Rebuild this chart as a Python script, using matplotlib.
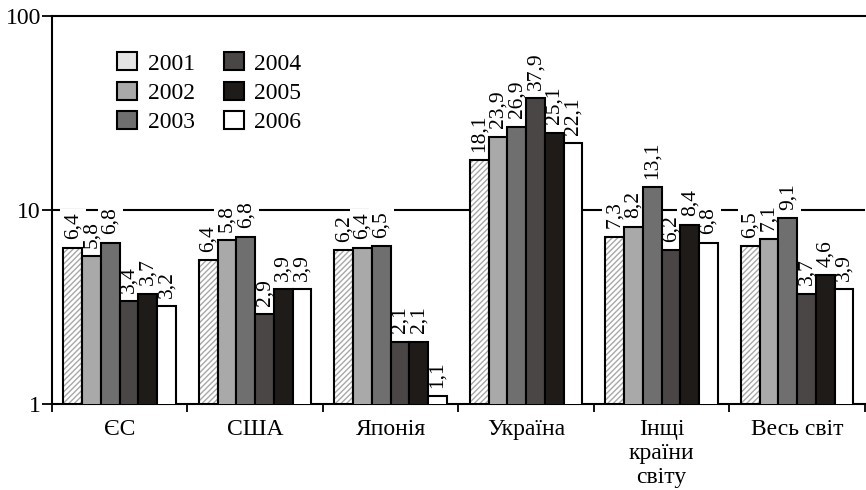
import numpy as np
import matplotlib
matplotlib.use('Agg')
import matplotlib.pyplot as plt
from matplotlib.patches import Patch

plt.rcParams['font.family'] = ['Liberation Serif', 'DejaVu Serif']
plt.rcParams['hatch.linewidth'] = 1.0

# Data
regions = ['ЄС', 'США', 'Японія', 'Україна', 'Інщі\nкраїни\nсвіту', 'Весь світ']
years = ['2001', '2002', '2003', '2004', '2005', '2006']

# bar heights per year (one value per region)
v2001 = [6.4, 5.5, 6.2, 18.1, 7.3, 6.5]
v2002 = [5.8, 7.0, 6.4, 23.9, 8.2, 7.1]
v2003 = [6.8, 7.3, 6.5, 26.9, 13.1, 9.1]
v2004 = [3.4, 2.9, 2.1, 37.9, 6.2, 3.7]
v2005 = [3.7, 3.9, 2.1, 25.1, 8.4, 4.6]
v2006 = [3.2, 3.9, 1.1, 22.1, 6.8, 3.9]

# printed labels (США labels differ from bar heights in the source)
t2001 = ['6,4', '6,4', '6,2', '18,1', '7,3', '6,5']
t2002 = ['5,8', '5,8', '6,4', '23,9', '8,2', '7,1']
t2003 = ['6,8', '6,8', '6,5', '26,9', '13,1', '9,1']
t2004 = ['3,4', '2,9', '2,1', '37,9', '6,2', '3,7']
t2005 = ['3,7', '3,9', '2,1', '25,1', '8,4', '4,6']
t2006 = ['3,2', '3,9', '1,1', '22,1', '6,8', '3,9']

values = [v2001, v2002, v2003, v2004, v2005, v2006]
texts = [t2001, t2002, t2003, t2004, t2005, t2006]
colors = ['white', '#a9a9a9', '#6f6f6f', '#4a4646', '#1f1b19', 'white']

fig, ax = plt.subplots(figsize=(8.66, 4.9), dpi=100)
fig.subplots_adjust(left=0.060, right=0.9988, top=0.967, bottom=0.1755)

x = np.arange(len(regions))
w = 0.83 / 6

ax.axhline(10, color='black', lw=1.5, zorder=0)

for j in range(6):
    pos = x + (j - 2.5) * w
    if j == 0:
        # light grey hatch, then black outline on top
        ax.bar(pos, values[j], w, color='white', edgecolor='#a8a8a8',
               hatch='//////', linewidth=0, zorder=2)
        ax.bar(pos, values[j], w, fill=False, edgecolor='black', linewidth=1.5, zorder=3)
    else:
        ax.bar(pos, values[j], w, color=colors[j], edgecolor='black', linewidth=1.5, zorder=3)
    for k in range(len(regions)):
        # white box behind the gridline gap, text itself on top of the bars
        ax.annotate(texts[j][k], (pos[k], values[j][k]), xytext=(0, 6),
                    textcoords='offset points', rotation=90, ha='center', va='bottom',
                    fontsize=15.5, color='white', zorder=1,
                    bbox=dict(boxstyle='square,pad=0.15', fc='white', ec='none'))
        ax.annotate(texts[j][k], (pos[k], values[j][k]), xytext=(0, 6),
                    textcoords='offset points', rotation=90, ha='center', va='bottom',
                    fontsize=15.5, color='black', zorder=4)

ax.set_yscale('log')
ax.set_ylim(1, 100)
ax.set_yticks([1, 10, 100])
ax.set_yticklabels(['1', '10', '100'])
ax.yaxis.set_minor_locator(matplotlib.ticker.NullLocator())
ax.set_xlim(-0.5, len(regions) - 0.5)
ax.set_xticks(np.arange(len(regions) + 1) - 0.5)
ax.set_xticklabels([])
ax.set_xticks(x, minor=True)
ax.set_xticklabels(regions, minor=True, fontsize=17, linespacing=1.17)
ax.tick_params(axis='x', which='minor', length=0, pad=11)
ax.tick_params(axis='x', which='major', length=6, width=1.3, direction='out')
ax.tick_params(axis='y', which='major', length=7, width=1.3, labelsize=17, pad=1)

for s in ['left', 'bottom', 'top']:
    ax.spines[s].set_linewidth(1.5)
ax.spines['right'].set_visible(False)

handles = [Patch(facecolor='#e4e4e4', edgecolor='black', lw=1.5)]
for j in range(1, 6):
    handles.append(Patch(facecolor=colors[j], edgecolor='black', lw=1.5))
ax.legend(handles, years, ncol=2, frameon=False, fontsize=17,
          loc='upper left', bbox_to_anchor=(0.066, 0.937), borderpad=0,
          handlelength=0.85, handleheight=0.8, handletextpad=0.45,
          columnspacing=1.2, labelspacing=0.3)

fig.savefig('out.png', dpi=100)
